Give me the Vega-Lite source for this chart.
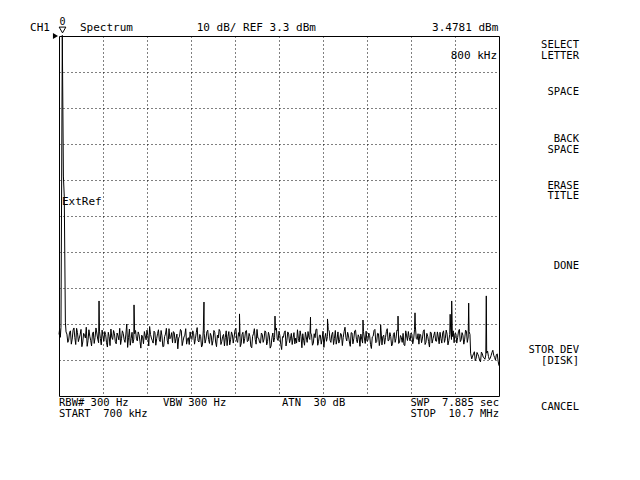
{
  "$schema": "https://vega.github.io/schema/vega-lite/v6.json",
  "width": 440,
  "height": 360,
  "autosize": {"type": "none"},
  "padding": {"left": 59, "top": 36, "right": 141, "bottom": 84},
  "background": "white",
  "config": {
    "view": {"stroke": "black", "strokeWidth": 1},
    "axis": {"domain": false, "ticks": false, "labels": false, "grid": true, "gridColor": "black", "gridDash": [1, 3], "gridOpacity": 1, "gridWidth": 1},
    "text": {"font": "DejaVu Sans Mono", "fontSize": 11, "color": "black"}
  },
  "datasets": {
    "trace": [
      {"f":0.70,"p":-79.6},{"f":0.715,"p":-78.0},{"f":0.73,"p":-80.4},{"f":0.745,"p":-77.6},{"f":0.775,"p":3.48},{"f":0.80,"p":-35.6},{"f":0.82,"p":-41.4},{"f":0.845,"p":-76.2},{"f":0.86,"p":-78.9},
      {"f":0.88,"p":-79.5},{"f":0.92,"p":-81.2},{"f":0.96,"p":-78.6},{"f":1.00,"p":-80.9},{"f":1.04,"p":-77.8},{"f":1.08,"p":-82.4},{"f":1.12,"p":-79.1},{"f":1.16,"p":-80.6},{"f":1.20,"p":-78.2},{"f":1.24,"p":-81.7},
      {"f":1.28,"p":-79.8},{"f":1.32,"p":-77.6},{"f":1.36,"p":-81.3},{"f":1.40,"p":-80.1},{"f":1.44,"p":-82.8},{"f":1.48,"p":-78.9},{"f":1.52,"p":-80.4},{"f":1.56,"p":-79.2},{"f":1.60,"p":-81.9},{"f":1.61,"p":-70.3},{"f":1.64,"p":-80.7},
      {"f":1.68,"p":-78.4},{"f":1.72,"p":-81.5},{"f":1.76,"p":-79.6},{"f":1.80,"p":-83.1},{"f":1.84,"p":-80.2},{"f":1.88,"p":-78.1},{"f":1.92,"p":-81.0},{"f":1.96,"p":-79.4},{"f":2.00,"p":-82.2},{"f":2.04,"p":-80.0},
      {"f":2.08,"p":-77.9},{"f":2.12,"p":-80.8},{"f":2.16,"p":-79.3},{"f":2.20,"p":-81.8},{"f":2.24,"p":-76.7},{"f":2.28,"p":-80.5},{"f":2.32,"p":-82.6},{"f":2.36,"p":-79.0},{"f":2.40,"p":-80.9},{"f":2.405,"p":-71.4},{"f":2.44,"p":-78.5},
      {"f":2.48,"p":-81.4},{"f":2.52,"p":-79.7},{"f":2.56,"p":-83.4},{"f":2.60,"p":-80.3},{"f":2.64,"p":-78.8},{"f":2.68,"p":-81.1},{"f":2.72,"p":-79.9},{"f":2.76,"p":-77.4},{"f":2.80,"p":-80.6},{"f":2.84,"p":-82.0},
      {"f":2.88,"p":-79.1},{"f":2.92,"p":-80.8},{"f":2.96,"p":-78.3},{"f":3.00,"p":-81.6},{"f":3.04,"p":-80.0},{"f":3.08,"p":-82.9},{"f":3.12,"p":-79.5},{"f":3.16,"p":-81.2},{"f":3.20,"p":-78.0},{"f":3.24,"p":-80.4},
      {"f":3.28,"p":-81.9},{"f":3.32,"p":-79.2},{"f":3.36,"p":-80.7},{"f":3.40,"p":-83.6},{"f":3.44,"p":-80.1},{"f":3.48,"p":-78.6},{"f":3.52,"p":-81.4},{"f":3.56,"p":-79.8},{"f":3.60,"p":-82.3},{"f":3.64,"p":-80.5},
      {"f":3.68,"p":-78.9},{"f":3.72,"p":-81.0},{"f":3.76,"p":-79.4},{"f":3.80,"p":-80.8},{"f":3.84,"p":-77.7},{"f":3.88,"p":-81.7},{"f":3.92,"p":-80.2},{"f":3.96,"p":-82.5},{"f":3.995,"p":-70.6},{"f":4.00,"p":-79.3},{"f":4.04,"p":-80.9},
      {"f":4.08,"p":-78.4},{"f":4.12,"p":-82.1},{"f":4.16,"p":-80.0},{"f":4.20,"p":-81.3},{"f":4.24,"p":-79.0},{"f":4.28,"p":-83.0},{"f":4.32,"p":-80.6},{"f":4.36,"p":-78.7},{"f":4.40,"p":-81.5},{"f":4.44,"p":-79.6},
      {"f":4.48,"p":-80.4},{"f":4.52,"p":-82.7},{"f":4.56,"p":-78.8},{"f":4.60,"p":-81.1},{"f":4.64,"p":-79.7},{"f":4.68,"p":-80.3},{"f":4.72,"p":-77.9},{"f":4.76,"p":-81.8},{"f":4.80,"p":-80.1},{"f":4.802,"p":-73.9},{"f":4.84,"p":-82.2},
      {"f":4.88,"p":-79.0},{"f":4.92,"p":-80.8},{"f":4.96,"p":-78.5},{"f":5.00,"p":-81.4},{"f":5.04,"p":-80.2},{"f":5.08,"p":-83.3},{"f":5.12,"p":-79.4},{"f":5.16,"p":-81.0},{"f":5.20,"p":-78.2},{"f":5.24,"p":-80.7},
      {"f":5.28,"p":-82.0},{"f":5.32,"p":-79.6},{"f":5.36,"p":-80.9},{"f":5.40,"p":-78.9},{"f":5.44,"p":-81.6},{"f":5.48,"p":-80.0},{"f":5.52,"p":-82.8},{"f":5.56,"p":-79.2},{"f":5.60,"p":-80.5},{"f":5.609,"p":-74.5},{"f":5.64,"p":-77.8},
      {"f":5.68,"p":-81.3},{"f":5.72,"p":-79.9},{"f":5.76,"p":-83.8},{"f":5.80,"p":-80.4},{"f":5.84,"p":-78.6},{"f":5.88,"p":-81.2},{"f":5.92,"p":-79.5},{"f":5.96,"p":-80.8},{"f":6.00,"p":-82.4},{"f":6.04,"p":-79.1},
      {"f":6.08,"p":-80.6},{"f":6.12,"p":-78.3},{"f":6.16,"p":-81.7},{"f":6.20,"p":-80.1},{"f":6.24,"p":-79.4},{"f":6.28,"p":-82.6},{"f":6.32,"p":-80.3},{"f":6.36,"p":-78.8},{"f":6.40,"p":-81.0},{"f":6.416,"p":-74.8},{"f":6.44,"p":-79.7},
      {"f":6.48,"p":-82.1},{"f":6.52,"p":-80.5},{"f":6.56,"p":-78.1},{"f":6.60,"p":-81.5},{"f":6.64,"p":-79.8},{"f":6.68,"p":-80.9},{"f":6.72,"p":-83.2},{"f":6.76,"p":-79.3},{"f":6.80,"p":-80.2},{"f":6.802,"p":-75.3},{"f":6.84,"p":-78.6},
      {"f":6.88,"p":-81.8},{"f":6.92,"p":-79.0},{"f":6.96,"p":-80.7},{"f":7.00,"p":-82.3},{"f":7.04,"p":-78.9},{"f":7.08,"p":-81.1},{"f":7.12,"p":-79.6},{"f":7.16,"p":-80.4},{"f":7.20,"p":-77.6},{"f":7.24,"p":-81.4},
      {"f":7.28,"p":-80.0},{"f":7.32,"p":-82.9},{"f":7.36,"p":-79.2},{"f":7.40,"p":-80.8},{"f":7.44,"p":-78.4},{"f":7.48,"p":-81.9},{"f":7.52,"p":-80.3},{"f":7.56,"p":-79.5},{"f":7.60,"p":-82.0},{"f":7.609,"p":-75.6},{"f":7.64,"p":-80.6},
      {"f":7.68,"p":-78.7},{"f":7.72,"p":-81.3},{"f":7.76,"p":-79.9},{"f":7.80,"p":-83.5},{"f":7.84,"p":-80.1},{"f":7.88,"p":-78.2},{"f":7.92,"p":-81.6},{"f":7.96,"p":-79.4},{"f":8.00,"p":-80.9},{"f":8.01,"p":-76.9},{"f":8.04,"p":-82.5},
      {"f":8.08,"p":-79.8},{"f":8.12,"p":-80.5},{"f":8.16,"p":-78.0},{"f":8.20,"p":-81.2},{"f":8.24,"p":-80.2},{"f":8.28,"p":-82.2},{"f":8.32,"p":-79.1},{"f":8.36,"p":-80.7},{"f":8.40,"p":-78.5},{"f":8.405,"p":-74.5},{"f":8.44,"p":-81.7},
      {"f":8.48,"p":-80.4},{"f":8.52,"p":-79.3},{"f":8.56,"p":-82.7},{"f":8.60,"p":-80.0},{"f":8.64,"p":-78.8},{"f":8.68,"p":-81.4},{"f":8.72,"p":-79.6},{"f":8.76,"p":-80.9},{"f":8.791,"p":-73.6},{"f":8.80,"p":-77.5},{"f":8.84,"p":-81.0},
      {"f":8.88,"p":-82.3},{"f":8.92,"p":-79.7},{"f":8.96,"p":-80.6},{"f":9.00,"p":-78.3},{"f":9.04,"p":-81.8},{"f":9.08,"p":-80.1},{"f":9.12,"p":-83.1},{"f":9.16,"p":-79.2},{"f":9.20,"p":-80.8},{"f":9.24,"p":-78.9},
      {"f":9.28,"p":-81.5},{"f":9.32,"p":-80.3},{"f":9.36,"p":-79.0},{"f":9.40,"p":-82.0},{"f":9.44,"p":-78.6},{"f":9.48,"p":-80.7},{"f":9.52,"p":-79.5},{"f":9.56,"p":-81.3},{"f":9.59,"p":-74.0},{"f":9.60,"p":-77.8},{"f":9.625,"p":-70.3},{"f":9.64,"p":-80.2},
      {"f":9.68,"p":-81.9},{"f":9.72,"p":-79.4},{"f":9.76,"p":-80.5},{"f":9.80,"p":-78.2},{"f":9.84,"p":-81.1},{"f":9.88,"p":-79.8},{"f":9.92,"p":-80.9},{"f":9.96,"p":-78.7},{"f":10.00,"p":-80.3},{"f":10.011,"p":-70.9},{"f":10.04,"p":-79.6},
      {"f":10.055,"p":-84.8},{"f":10.08,"p":-86.4},{"f":10.12,"p":-85.0},{"f":10.16,"p":-86.9},{"f":10.20,"p":-84.6},{"f":10.24,"p":-85.8},{"f":10.28,"p":-87.2},{"f":10.32,"p":-84.9},{"f":10.36,"p":-86.1},{"f":10.40,"p":-85.3},{"f":10.411,"p":-68.9},{"f":10.44,"p":-84.2},{"f":10.48,"p":-86.6},{"f":10.52,"p":-85.5},{"f":10.56,"p":-84.0},{"f":10.60,"p":-86.0},{"f":10.64,"p":-85.2},{"f":10.68,"p":-87.0},{"f":10.70,"p":-88.3},
      {"f":0.90,"p":-81.8},{"f":0.94,"p":-79.0},{"f":0.98,"p":-82.3},{"f":1.02,"p":-78.4},{"f":1.06,"p":-80.5},{"f":1.10,"p":-77.9},{"f":1.14,"p":-81.6},{"f":1.18,"p":-79.7},{"f":1.22,"p":-83.0},{"f":1.26,"p":-79.3},
      {"f":1.30,"p":-80.6},{"f":1.34,"p":-82.9},{"f":1.38,"p":-78.3},{"f":1.42,"p":-81.2},{"f":1.46,"p":-79.5},{"f":1.50,"p":-82.1},{"f":1.54,"p":-77.8},{"f":1.58,"p":-80.9},{"f":1.62,"p":-78.7},{"f":1.66,"p":-82.5},
      {"f":1.70,"p":-80.2},{"f":1.74,"p":-78.8},{"f":1.78,"p":-81.9},{"f":1.82,"p":-79.0},{"f":1.86,"p":-82.7},{"f":1.90,"p":-80.4},{"f":1.94,"p":-78.5},{"f":1.98,"p":-81.6},{"f":2.02,"p":-79.2},{"f":2.06,"p":-81.1},
      {"f":2.10,"p":-82.4},{"f":2.14,"p":-78.6},{"f":2.18,"p":-81.0},{"f":2.22,"p":-79.5},{"f":2.26,"p":-83.2},{"f":2.30,"p":-78.1},{"f":2.34,"p":-80.7},{"f":2.38,"p":-82.0},{"f":2.42,"p":-79.4},{"f":2.46,"p":-80.8},
      {"f":2.50,"p":-78.9},{"f":2.54,"p":-81.5},{"f":2.58,"p":-79.8},{"f":2.62,"p":-82.2},{"f":2.66,"p":-80.0},{"f":2.70,"p":-78.4},{"f":2.74,"p":-82.8},{"f":2.78,"p":-79.6},{"f":2.82,"p":-81.3},{"f":2.86,"p":-78.7},
      {"f":2.90,"p":-82.6},{"f":2.94,"p":-79.4},{"f":2.98,"p":-81.1},{"f":3.02,"p":-78.5},{"f":3.06,"p":-83.0},{"f":3.10,"p":-80.2},{"f":3.14,"p":-77.9},{"f":3.18,"p":-82.3},{"f":3.22,"p":-80.8},{"f":3.26,"p":-79.1},
      {"f":3.30,"p":-78.8},{"f":3.34,"p":-82.0},{"f":3.38,"p":-79.5},{"f":3.42,"p":-80.6},{"f":3.46,"p":-78.2},{"f":3.50,"p":-82.7},{"f":3.54,"p":-80.3},{"f":3.58,"p":-78.0},{"f":3.62,"p":-80.9},{"f":3.66,"p":-82.4},
      {"f":3.70,"p":-80.7},{"f":3.74,"p":-78.6},{"f":3.78,"p":-82.3},{"f":3.82,"p":-79.1},{"f":3.86,"p":-81.4},{"f":3.90,"p":-79.6},{"f":3.94,"p":-83.1},{"f":3.98,"p":-78.4},{"f":4.02,"p":-82.0},{"f":4.06,"p":-78.9},
      {"f":4.10,"p":-81.0},{"f":4.14,"p":-79.3},{"f":4.18,"p":-82.6},{"f":4.22,"p":-78.5},{"f":4.26,"p":-81.7},{"f":4.30,"p":-79.8},{"f":4.34,"p":-78.2},{"f":4.38,"p":-82.4},{"f":4.42,"p":-80.1},{"f":4.46,"p":-82.8},
      {"f":4.50,"p":-78.6},{"f":4.54,"p":-80.2},{"f":4.58,"p":-82.5},{"f":4.62,"p":-78.9},{"f":4.66,"p":-82.0},{"f":4.70,"p":-78.4},{"f":4.74,"p":-81.3},{"f":4.78,"p":-79.1},{"f":4.82,"p":-83.0},{"f":4.86,"p":-79.6},
      {"f":4.90,"p":-82.1},{"f":4.94,"p":-78.7},{"f":4.98,"p":-81.6},{"f":5.02,"p":-79.3},{"f":5.06,"p":-82.9},{"f":5.10,"p":-80.1},{"f":5.14,"p":-78.0},{"f":5.18,"p":-82.3},{"f":5.22,"p":-80.6},{"f":5.26,"p":-81.9},
      {"f":5.30,"p":-79.2},{"f":5.34,"p":-81.8},{"f":5.38,"p":-78.6},{"f":5.42,"p":-82.5},{"f":5.46,"p":-79.0},{"f":5.50,"p":-83.4},{"f":5.54,"p":-80.4},{"f":5.58,"p":-81.7},{"f":5.62,"p":-78.4},{"f":5.66,"p":-80.9},
      {"f":5.70,"p":-78.7},{"f":5.74,"p":-82.4},{"f":5.78,"p":-80.2},{"f":5.82,"p":-79.1},{"f":5.86,"p":-82.8},{"f":5.90,"p":-78.9},{"f":5.94,"p":-81.9},{"f":5.98,"p":-79.3},{"f":6.02,"p":-80.5},{"f":6.06,"p":-82.2},
      {"f":6.10,"p":-82.0},{"f":6.14,"p":-80.7},{"f":6.18,"p":-78.6},{"f":6.22,"p":-83.3},{"f":6.26,"p":-81.2},{"f":6.30,"p":-79.0},{"f":6.34,"p":-81.8},{"f":6.38,"p":-80.4},{"f":6.42,"p":-79.2},{"f":6.46,"p":-82.6},
      {"f":6.50,"p":-79.4},{"f":6.54,"p":-78.2},{"f":6.58,"p":-82.6},{"f":6.62,"p":-79.8},{"f":6.66,"p":-82.3},{"f":6.70,"p":-78.7},{"f":6.74,"p":-80.6},{"f":6.78,"p":-81.5},{"f":6.82,"p":-78.3},{"f":6.86,"p":-81.2},
      {"f":6.90,"p":-79.6},{"f":6.94,"p":-82.4},{"f":6.98,"p":-78.5},{"f":7.02,"p":-80.9},{"f":7.06,"p":-82.0},{"f":7.10,"p":-79.3},{"f":7.14,"p":-82.7},{"f":7.18,"p":-78.8},{"f":7.22,"p":-80.5},{"f":7.26,"p":-79.0},
      {"f":7.30,"p":-81.7},{"f":7.34,"p":-79.1},{"f":7.38,"p":-82.2},{"f":7.42,"p":-78.6},{"f":7.46,"p":-81.0},{"f":7.50,"p":-79.7},{"f":7.54,"p":-82.9},{"f":7.58,"p":-80.9},{"f":7.62,"p":-78.8},{"f":7.66,"p":-82.1},
      {"f":7.70,"p":-81.5},{"f":7.74,"p":-79.2},{"f":7.78,"p":-82.4},{"f":7.82,"p":-80.3},{"f":7.86,"p":-78.5},{"f":7.90,"p":-81.9},{"f":7.94,"p":-79.3},{"f":7.98,"p":-82.7},{"f":8.02,"p":-78.6},{"f":8.06,"p":-80.2},
      {"f":8.10,"p":-82.3},{"f":8.14,"p":-78.8},{"f":8.18,"p":-81.4},{"f":8.22,"p":-79.1},{"f":8.26,"p":-82.8},{"f":8.30,"p":-79.6},{"f":8.34,"p":-81.8},{"f":8.38,"p":-78.4},{"f":8.42,"p":-82.1},{"f":8.46,"p":-79.9},
      {"f":8.50,"p":-81.8},{"f":8.54,"p":-82.5},{"f":8.58,"p":-78.6},{"f":8.62,"p":-81.3},{"f":8.66,"p":-80.5},{"f":8.70,"p":-79.2},{"f":8.74,"p":-82.2},{"f":8.78,"p":-78.3},{"f":8.82,"p":-80.7},{"f":8.86,"p":-79.4},
      {"f":8.90,"p":-79.5},{"f":8.94,"p":-81.9},{"f":8.98,"p":-78.7},{"f":9.02,"p":-82.4},{"f":9.06,"p":-79.3},{"f":9.10,"p":-81.6},{"f":9.14,"p":-78.9},{"f":9.18,"p":-82.0},{"f":9.22,"p":-79.8},{"f":9.26,"p":-81.4},
      {"f":9.30,"p":-78.9},{"f":9.34,"p":-82.2},{"f":9.38,"p":-80.7},{"f":9.42,"p":-79.2},{"f":9.46,"p":-81.8},{"f":9.50,"p":-78.4},{"f":9.54,"p":-82.5},{"f":9.58,"p":-79.6},{"f":9.62,"p":-81.0},{"f":9.66,"p":-78.6},
      {"f":9.70,"p":-79.3},{"f":9.74,"p":-82.0},{"f":9.78,"p":-78.7},{"f":9.82,"p":-81.6},{"f":9.86,"p":-79.1},{"f":9.90,"p":-82.3},{"f":9.94,"p":-78.4},{"f":9.98,"p":-81.8},{"f":10.02,"p":-78.8},
      {"f":10.10,"p":-85.6},{"f":10.14,"p":-84.4},{"f":10.18,"p":-86.3},{"f":10.22,"p":-85.1},{"f":10.26,"p":-86.8},{"f":10.30,"p":-84.5},{"f":10.34,"p":-85.9},{"f":10.38,"p":-86.5},{"f":10.42,"p":-84.8},{"f":10.46,"p":-85.7},{"f":10.50,"p":-86.2},{"f":10.54,"p":-84.6},{"f":10.58,"p":-85.4},{"f":10.62,"p":-86.7},{"f":10.66,"p":-85.0}
    ],
    "head_left": [
      {"t":"CH1","f":0.041,"p":4.77},
      {"t":"Spectrum","f":1.177,"p":4.77},
      {"t":"10 dB/ REF 3.3 dBm","f":3.83,"p":4.77},
      {"t":"ExtRef","f":0.768,"p":-43.64}
    ],
    "head_right": [
      {"t":"3.4781 dBm","f":10.684,"p":4.77},
      {"t":"800 kHz","f":10.655,"p":-3.09}
    ],
    "foot_left": [
      {"t":"RBW# 300 Hz","f":0.7,"p":-99.56},
      {"t":"VBW 300 Hz","f":3.064,"p":-99.56},
      {"t":"ATN\u00a0\u00a030 dB","f":5.768,"p":-99.56},
      {"t":"START\u00a0\u00a0700 kHz","f":0.7,"p":-102.53}
    ],
    "foot_right": [
      {"t":"SWP\u00a0\u00a07.885 sec","f":10.7,"p":-99.56},
      {"t":"STOP\u00a0\u00a010.7 MHz","f":10.7,"p":-102.53}
    ],
    "keys": [
      {"t":"SELECT","f":12.518,"p":-0.0},
      {"t":"LETTER","f":12.518,"p":-3.0},
      {"t":"SPACE","f":12.518,"p":-13.09},
      {"t":"BACK","f":12.518,"p":-26.1},
      {"t":"SPACE","f":12.518,"p":-29.1},
      {"t":"ERASE","f":12.518,"p":-39.1},
      {"t":"TITLE","f":12.518,"p":-42.1},
      {"t":"DONE","f":12.518,"p":-61.42},
      {"t":"STOR DEV","f":12.518,"p":-84.7},
      {"t":"[DISK]","f":12.518,"p":-87.7},
      {"t":"CANCEL","f":12.518,"p":-100.59}
    ],
    "marker": [{"t":"0","f":0.78,"p":4.97}],
    "reflevel": [{"f":0.62,"p":3.3}]
  },
  "layer": [
    {
      "data": {"name": "trace"},
      "mark": {"type": "line", "color": "black", "strokeWidth": 1, "clip": false},
      "encoding": {
        "x": {"field": "f", "type": "quantitative", "title": null,
              "scale": {"domain": [0.7, 10.7], "nice": false, "zero": false},
              "axis": {"values": [1.7, 2.7, 3.7, 4.7, 5.7, 6.7, 7.7, 8.7, 9.7], "grid": true, "domain": false, "ticks": false, "labels": false}},
        "y": {"field": "p", "type": "quantitative", "title": null,
              "scale": {"domain": [-96.7, 3.3], "nice": false, "zero": false},
              "axis": {"values": [-6.7, -16.7, -26.7, -36.7, -46.7, -56.7, -66.7, -76.7, -86.7], "grid": true, "domain": false, "ticks": false, "labels": false}}
      }
    },
    {
      "data": {"name": "head_left"},
      "mark": {"type": "text", "align": "left", "baseline": "alphabetic", "fontSize": 11, "clip": false},
      "encoding": {
        "x": {"field": "f", "type": "quantitative", "title": null},
        "y": {"field": "p", "type": "quantitative", "title": null},
        "text": {"field": "t"}
      }
    },
    {
      "data": {"name": "head_right"},
      "mark": {"type": "text", "align": "right", "baseline": "alphabetic", "fontSize": 11, "clip": false},
      "encoding": {
        "x": {"field": "f", "type": "quantitative", "title": null},
        "y": {"field": "p", "type": "quantitative", "title": null},
        "text": {"field": "t"}
      }
    },
    {
      "data": {"name": "foot_left"},
      "mark": {"type": "text", "align": "left", "baseline": "alphabetic", "fontSize": 10.5, "clip": false},
      "encoding": {
        "x": {"field": "f", "type": "quantitative", "title": null},
        "y": {"field": "p", "type": "quantitative", "title": null},
        "text": {"field": "t"}
      }
    },
    {
      "data": {"name": "foot_right"},
      "mark": {"type": "text", "align": "right", "baseline": "alphabetic", "fontSize": 10.5, "clip": false},
      "encoding": {
        "x": {"field": "f", "type": "quantitative", "title": null},
        "y": {"field": "p", "type": "quantitative", "title": null},
        "text": {"field": "t"}
      }
    },
    {
      "data": {"name": "keys"},
      "mark": {"type": "text", "align": "right", "baseline": "alphabetic", "fontSize": 10.5, "clip": false},
      "encoding": {
        "x": {"field": "f", "type": "quantitative", "title": null},
        "y": {"field": "p", "type": "quantitative", "title": null},
        "text": {"field": "t"}
      }
    },
    {
      "data": {"name": "marker"},
      "mark": {"type": "point", "shape": "triangle-down", "filled": true, "fill": "white", "stroke": "black", "strokeWidth": 1, "size": 45, "opacity": 1, "clip": false},
      "encoding": {
        "x": {"field": "f", "type": "quantitative", "title": null},
        "y": {"field": "p", "type": "quantitative", "title": null}
      }
    },
    {
      "data": {"name": "marker"},
      "mark": {"type": "text", "align": "center", "baseline": "alphabetic", "dy": -5, "fontSize": 10, "clip": false},
      "encoding": {
        "x": {"field": "f", "type": "quantitative", "title": null},
        "y": {"field": "p", "type": "quantitative", "title": null},
        "text": {"field": "t"}
      }
    },
    {
      "data": {"name": "reflevel"},
      "mark": {"type": "point", "shape": "triangle-right", "filled": true, "color": "black", "size": 35, "opacity": 1, "clip": false},
      "encoding": {
        "x": {"field": "f", "type": "quantitative", "title": null},
        "y": {"field": "p", "type": "quantitative", "title": null}
      }
    }
  ]
}
